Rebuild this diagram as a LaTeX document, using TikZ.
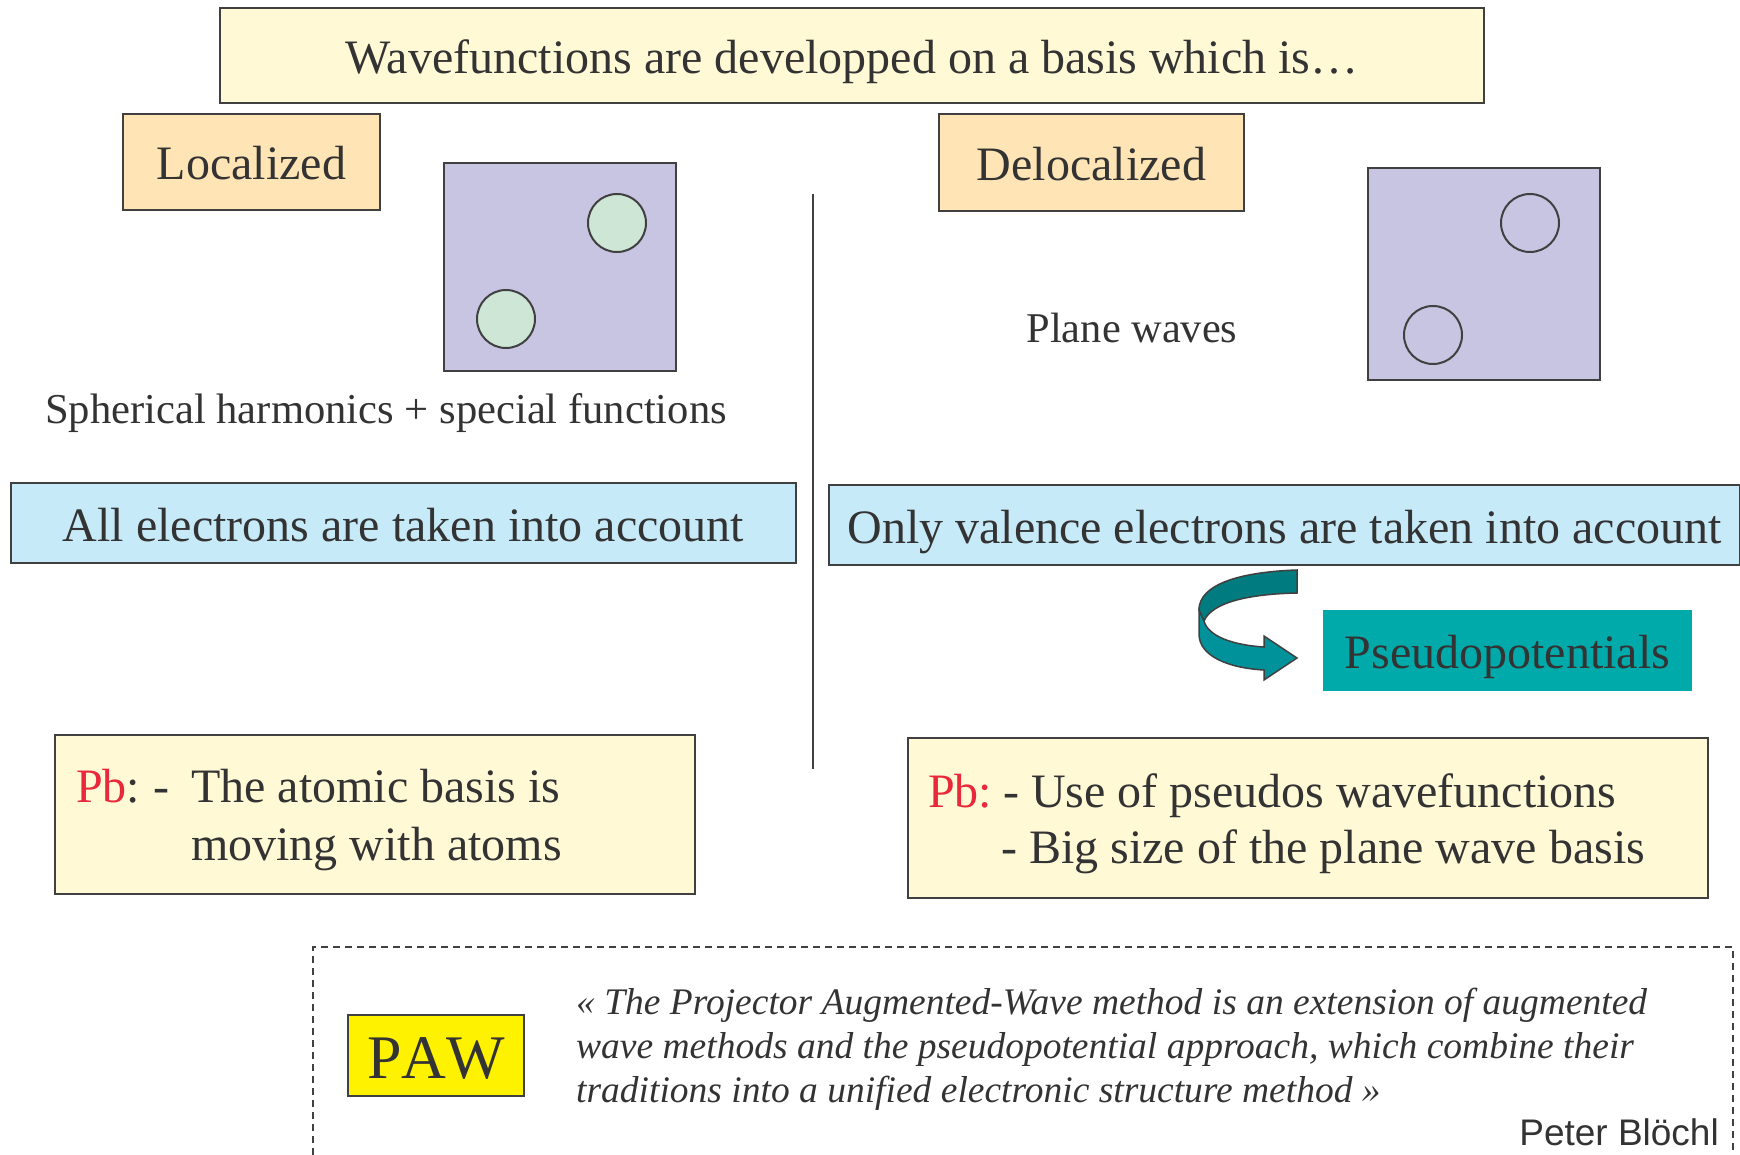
\documentclass[tikz,border=0pt]{standalone}
\usepackage{fontspec}
\setmainfont{Liberation Serif}
\setsansfont{Liberation Sans}
\definecolor{topfill}{HTML}{FFF9D6}
\definecolor{orangefill}{HTML}{FFE4B5}
\definecolor{purplefill}{HTML}{C8C5E2}
\definecolor{greenfill}{HTML}{CDE6D6}
\definecolor{bluefill}{HTML}{C7EAF9}
\definecolor{tealfill}{HTML}{00A9AA}
\definecolor{tealdark}{HTML}{007C80}
\definecolor{tealmid}{HTML}{00929A}
\definecolor{pbred}{HTML}{E8293B}
\definecolor{txt}{HTML}{333333}
\definecolor{edge}{HTML}{404040}
\definecolor{pawyellow}{HTML}{FFF200}
\newcommand{\fsz}[1]{\fontsize{#1}{#1}\selectfont}
\begin{document}
\begin{tikzpicture}[x=1pt,y=-1pt,
  box/.style={draw=edge,line width=2pt,inner sep=0pt,text=txt},
  bigtext/.style={font=\fsz{48},text height=36pt,text depth=0pt},
  lbl/.style={inner sep=0pt,text=txt},
  circ/.style={draw=edge,line width=2pt,circle,minimum size=58pt,inner sep=0pt}]
\useasboundingbox (0,0) rectangle (1740,1155);
% title
\node[box,bigtext,fill=topfill,minimum width=1264pt,minimum height=95pt] (title) at (852,55.5) {Wavefunctions are developped on a basis which is\dots};
% localized
\node[box,bigtext,fill=orangefill,minimum width=257pt,minimum height=96pt] (loc) at (251.5,162) {Localized};
\node[box,fill=purplefill,minimum width=232pt,minimum height=208pt] (lpurple) at (560,267) {};
\node[circ,fill=greenfill] (lc1) at (617,223) {};
\node[circ,fill=greenfill] (lc2) at (506,319) {};
\node[lbl,anchor=base,font=\fsz{42.6}] (sph) at (386,424) {Spherical harmonics + special functions};
% delocalized
\node[box,bigtext,fill=orangefill,minimum width=305pt,minimum height=97pt] (deloc) at (1091.5,162.5) {Delocalized};
\node[box,fill=purplefill,minimum width=232pt,minimum height=212pt] (rpurple) at (1484,274) {};
\node[circ] (rc1) at (1530,223) {};
\node[circ] (rc2) at (1433,335) {};
\node[lbl,anchor=base,font=\fsz{42.4}] (pw) at (1132,343) {Plane waves};
% divider
\coordinate (dtop) at (813,194);
\coordinate (dbot) at (813,769);
\draw[edge,line width=2pt] (dtop) -- (dbot);
% blue boxes
\node[box,bigtext,fill=bluefill,minimum width=785pt,minimum height=80pt] (allel) at (403.5,523) {All electrons are taken into account};
\node[box,bigtext,fill=bluefill,minimum width=911pt,minimum height=80pt] (valel) at (1284.5,525) {Only valence electrons are taken into account};
% curved arrow
\draw[edge,line width=1.5pt,fill=tealmid]
  (1199,610) -- (1199,634) .. controls (1199,656) and (1228,668) .. (1264,670)
  -- (1264,680) -- (1297,658) -- (1264,636) -- (1264,647)
  .. controls (1232,645) and (1208,636) .. (1204,621) -- cycle;
\draw[edge,line width=1.5pt,fill=tealdark]
  (1297,570) .. controls (1238,572) and (1199,585) .. (1199,610)
  -- (1204,621) .. controls (1212,602) and (1250,594) .. (1297,593) -- cycle;
\node[bigtext,fill=tealfill,minimum width=369pt,minimum height=81pt,inner sep=0pt,text=txt] (pseudo) at (1507.5,650.5) {Pseudopotentials};
% Pb boxes
\node[box,fill=topfill,minimum width=640pt,minimum height=159pt] (lpb) at (375,814.5) {};
\node[lbl,anchor=base west,font=\fsz{48}] (lpbhead) at (76,802) {\textcolor{pbred}{Pb}:};
\node[lbl,anchor=base west,font=\fsz{48}] (lpbdash) at (153,802) {-};
\node[lbl,anchor=base west,font=\fsz{48}] (lpb1) at (191,802) {The atomic basis is};
\node[lbl,anchor=base west,font=\fsz{48}] (lpb2) at (191,860) {moving with atoms};
\node[box,fill=topfill,minimum width=800pt,minimum height=160pt] (rpb) at (1308,818) {};
\node[lbl,anchor=base west,font=\fsz{48}] (rpbhead) at (928,807) {\textcolor{pbred}{Pb:}};
\node[lbl,anchor=base west,font=\fsz{48}] (rpb1) at (1003,807) {- Use of pseudos wavefunctions};
\node[lbl,anchor=base west,font=\fsz{48}] (rpb2) at (1001,863) {- Big size of the plane wave basis};
% PAW frame
\draw[edge,line width=1.5pt,dash pattern=on 7pt off 5pt] (313,1155) -- (313,947) -- (1733,947) -- (1733,1155);
\node[box,fill=pawyellow,minimum width=176pt,minimum height=81pt,font={\fsz{62}\addfontfeatures{Kerning=Off}},text height=46pt,text depth=0pt] (paw) at (436,1055.5) {PAW};
\node[lbl,anchor=base west,font=\fsz{37.5}\itshape] (q1) at (576,1014) {« The Projector Augmented-Wave method is an extension of augmented};
\node[lbl,anchor=base west,font=\fsz{37.5}\itshape] (q2) at (576,1058) {wave methods and the pseudopotential approach, which combine their};
\node[lbl,anchor=base west,font=\fsz{37.5}\itshape] (q3) at (576,1102) {traditions into a unified electronic structure method »};
\node[lbl,anchor=base east,font=\sffamily\fsz{37}] (auth) at (1719,1145) {Peter Blöchl};
\end{tikzpicture}
\end{document}
